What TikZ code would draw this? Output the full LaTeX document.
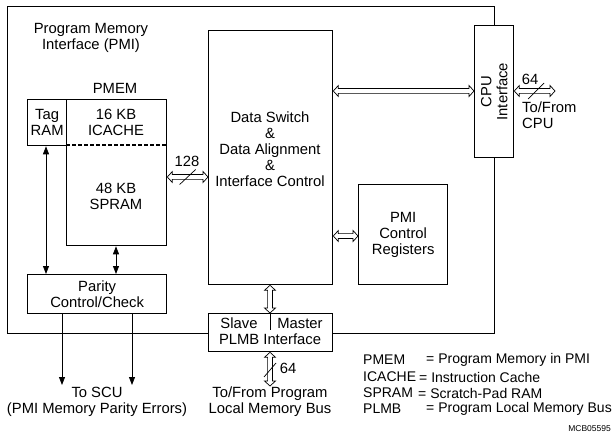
\documentclass[tikz,border=0pt]{standalone}
\usepackage{fontspec}
\setmainfont{Liberation Sans}
\usetikzlibrary{arrows.meta,calc}
\begin{document}
\begin{tikzpicture}[x=1pt,y=-1pt, font=\fontsize{14.8}{16}\selectfont,
  box/.style={draw, line width=1.3pt, fill=white, inner sep=0pt, anchor=north west},
  lbl/.style={align=center, inner sep=0pt},
  hbus/.style={draw, line width=0.7pt, fill=white, line join=miter,
    to path={let \p1=(\tikztostart), \p2=(\tikztotarget) in
      (\x1,\y1) -- (\x1+5pt,\y1+5.5pt) -- (\x1+5pt,\y1+2.4pt) -- (\x2-5pt,\y1+2.4pt) -- (\x2-5pt,\y1+5.5pt)
      -- (\x2,\y1) -- (\x2-5pt,\y1-5.5pt) -- (\x2-5pt,\y1-2.4pt) -- (\x1+5pt,\y1-2.4pt) -- (\x1+5pt,\y1-5.5pt) -- cycle}},
  vbus/.style={draw, line width=0.7pt, fill=white, line join=miter,
    to path={let \p1=(\tikztostart), \p2=(\tikztotarget) in
      (\x1,\y1) -- (\x1+5.5pt,\y1-5pt) -- (\x1+2.4pt,\y1-5pt) -- (\x1+2.4pt,\y2+5pt) -- (\x1+5.5pt,\y2+5pt)
      -- (\x1,\y2) -- (\x1-5.5pt,\y2+5pt) -- (\x1-2.4pt,\y2+5pt) -- (\x1-2.4pt,\y1-5pt) -- (\x1-5.5pt,\y1-5pt) -- cycle}},
  sig/.style={line width=0.8pt, -{Triangle[width=6pt,length=8pt]}},
  sigb/.style={line width=0.8pt, {Triangle[width=6pt,length=8pt]}-{Triangle[width=6pt,length=8pt]}},
  slash/.style={line width=0.7pt},
  leg/.style={anchor=west, inner sep=0pt, font=\fontsize{14}{16}\selectfont},
]
\useasboundingbox (0,0) rectangle (612,438);
% outer PMI box
\node[box, line width=1.1pt, fill=none, minimum width=487pt, minimum height=327pt] (pmi) at (7,6) {};
\node[lbl] (pmit) at (91,38) {Program Memory\\Interface (PMI)};
% boxes
\node[box, minimum width=124pt, minimum height=254pt] (ds) at (208,30) {};
\node[lbl] (dst) at (270,149) {Data Switch\\\&\\Data Alignment\\\&\\Interface Control};
\node[box, minimum width=39pt, minimum height=46pt] (tag) at (27,99) {};
\node[lbl] at (tag.center) {Tag\\RAM};
\node[box, minimum width=100pt, minimum height=146pt] (pmem) at (66,99) {};
\node[lbl] (pmemt) at (115,88) {PMEM};
\node[lbl] (ic) at (116,122) {16 KB\\ICACHE};
\node[lbl] (sp) at (116,196) {48 KB\\SPRAM};
\coordinate (dl) at (66,145);
\coordinate (dr) at (166,145);
\draw[line width=2pt, dash pattern=on 4pt off 2pt] (dl) -- (dr);
\node[box, minimum width=39pt, minimum height=132pt] (cpu) at (474,25) {};
\node[lbl, rotate=90] at (cpu.center) {CPU\\Interface};
\node[box, minimum width=89pt, minimum height=100pt] (reg) at (358,184) {};
\node[lbl] at (reg.center) {PMI\\Control\\Registers};
\node[box, minimum width=139pt, minimum height=39pt] (par) at (27,274) {};
\node[lbl] at (par.center) {Parity\\Control/Check};
\node[box, minimum width=124pt, minimum height=38pt] (plmb) at (208,313) {};
\node[lbl] (slv) at (239,323) {Slave};
\node[lbl] (mst) at (300,323) {Master};
\node[lbl] (plt) at (270,339) {PLMB Interface};
\coordinate (dvt) at (270,313);
\coordinate (dvb) at (270,330);
\draw[line width=0.8pt] (dvt) -- (dvb);
% helper coordinates
\coordinate (y91) at (0,91);
\coordinate (y177) at (0,177);
\coordinate (y236) at (0,236);
\coordinate (x270) at (270,0);
\coordinate (x46) at (46,0);
\coordinate (x116) at (116,0);
\coordinate (x62) at (62,0);
\coordinate (x132) at (132,0);
\coordinate (cpuout) at (555,91);
\coordinate (plout) at (270,386);
\coordinate (scu1) at (62,385);
\coordinate (scu2) at (132,385);
% buses
\draw[hbus] (pmem.east |- y177) to (ds.west |- y177);
\coordinate (m128) at ($(pmem.east |- y177)!0.5!(ds.west |- y177)$);
\draw[slash] ([shift={(-8,7.5)}]m128) -- ([shift={(8,-7.5)}]m128);
\node[lbl] at (187,161) {128};
\draw[hbus] (ds.east |- y91) to (cpu.west |- y91);
\draw[hbus] (ds.east |- y236) to (reg.west |- y236);
\draw[vbus] (ds.south -| x270) to (plmb.north -| x270);
\draw[hbus] (cpu.east |- y91) to (cpuout);
\coordinate (m64c) at (536,91);
\draw[slash] ([shift={(-8,8)}]m64c) -- ([shift={(8,-8)}]m64c);
\node[lbl] at (530,79) {64};
\node[lbl, align=left, anchor=north west] at (522,102) {To/From\\CPU};
\draw[vbus] (plmb.south -| x270) to (plout);
\coordinate (m64p) at (270,370);
\draw[slash] ([shift={(-6,7)}]m64p) -- ([shift={(6,-7)}]m64p);
\node[lbl] at (288,368) {64};
\node[lbl] at (270,402) {To/From Program\\Local Memory Bus};
% signals
\draw[sigb] (tag.south -| x46) -- (par.north -| x46);
\draw[sigb] (pmem.south -| x116) -- (par.north -| x116);
\draw[sig] (par.south -| x62) -- (scu1);
\draw[sig] (par.south -| x132) -- (scu2);
\node[lbl] at (97,402) {To SCU\\(PMI Memory Parity Errors)};
% legend
\node[leg] at (363,360) {PMEM};
\node[leg] at (426,360) {= Program Memory in PMI};
\node[leg] at (363,377) {ICACHE};
\node[leg] at (419,377) {= Instruction Cache};
\node[leg] at (363,393) {SPRAM};
\node[leg] at (418,393) {= Scratch-Pad RAM};
\node[leg] at (363,409) {PLMB};
\node[leg] at (426,409) {= Program Local Memory Bus};
\node[anchor=east, inner sep=0pt, font=\fontsize{8.5}{10}\selectfont] at (611,429) {MCB05595};
\end{tikzpicture}
\end{document}
